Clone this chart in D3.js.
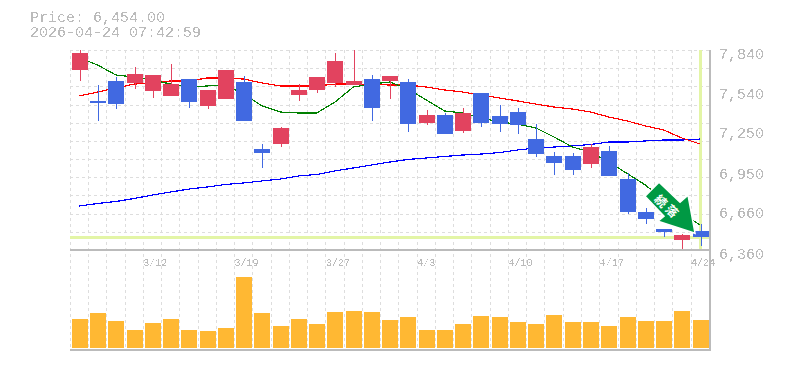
<!DOCTYPE html>
<html>
<head>
<meta charset="utf-8">
<script src="https://cdn.jsdelivr.net/npm/d3@7"></script>
<style>
	html, body {margin:0; padding:0; background:#fff; overflow:hidden;}
	text {font-family:"Liberation Mono", monospace; fill:#bbb;}
	.grid {stroke:#ddd; stroke-width:1; stroke-dasharray:3,3; shape-rendering:crispEdges;}
	.frame {stroke:#bbb; stroke-width:2; shape-rendering:crispEdges;}
	.ma {fill:none; stroke-width:1.2; shape-rendering:crispEdges;}
	.bar {shape-rendering:crispEdges;}
	.crisp {filter:url(#crisp);}
</style>
</head>
<body>
<svg id="chart" width="785" height="370">
	<defs>
		<!-- the original labels have no antialiasing, so threshold the alpha -->
		<filter id="crisp" x="0" y="0" width="100%" height="100%" filterUnits="objectBoundingBox">
			<feComponentTransfer><feFuncA type="discrete" tableValues="0 0 1 1"></feFuncA></feComponentTransfer>
		</filter>
	</defs>
</svg>
<script>
var headerLines = ['Price: 6,454.00', '2026-04-24 07:42:59'];
var lastPrice = 6454;

var dates = ['3/6','3/9','3/10','3/11','3/12','3/13','3/16','3/17','3/18','3/19','3/23','3/24','3/25','3/26','3/27','3/30','3/31','4/1','4/2','4/3','4/6','4/7','4/8','4/9','4/10','4/13','4/14','4/15','4/16','4/17','4/20','4/21','4/22','4/23','4/24'];
var dateLabels = ['3/12','3/19','3/27','4/3','4/10','4/17','4/24'];
var priceTicks = [7840,7540,7250,6950,6660,6360];

var opens = [7692,7463,7611,7598,7539,7500,7625,7426,7480,7603,7107,7144,7507,7544,7596,7581,7625,7611,7603,7300,7359,7241,7522,7352,7381,7181,7056,7056,6996,7093,6885,6641,6515,6434,6500];
var highs = [7840,7581,7640,7714,7655,7736,7625,7544,7692,7648,7144,7270,7588,7640,7818,7840,7655,7648,7625,7396,7374,7411,7522,7433,7411,7292,7085,7078,7144,7130,6930,6671,6515,6478,6552];
var lows = [7611,7315,7406,7554,7487,7500,7413,7406,7480,7317,6969,7122,7463,7522,7566,7581,7315,7477,7233,7285,7218,7226,7270,7233,7218,7048,6915,6915,6967,6908,6626,6552,6456,6353,6390];
var closes = [7818,7448,7442,7662,7655,7588,7457,7544,7692,7317,7078,7263,7544,7640,7759,7611,7411,7648,7292,7359,7218,7374,7300,7292,7285,7070,7004,6952,7122,6908,6641,6589,6493,6471,6454];

var maShort = [7781,7729,7655,7640,7618,7588,7566,7574,7581,7514,7426,7381,7374,7374,7455,7566,7588,7603,7551,7470,7389,7374,7337,7307,7292,7263,7196,7122,7085,7011,6926,6841,6730,6634,6545];
var maMid = [7500,7529,7559,7588,7596,7611,7611,7633,7633,7625,7596,7574,7574,7574,7588,7588,7585,7581,7581,7566,7544,7529,7507,7485,7463,7440,7418,7403,7381,7344,7315,7278,7248,7189,7144];
var maLong = [6686,6704,6719,6741,6767,6789,6811,6826,6845,6856,6871,6885,6908,6919,6945,6967,6989,7011,7030,7041,7052,7063,7070,7081,7100,7115,7122,7130,7141,7159,7159,7167,7174,7174,7181];

var volumes = [29,35,27,18,25,29,18,17,20,71,35,22,29,24,36,37,36,28,31,18,18,24,32,31,26,24,33,26,26,22,31,27,27,37,28];

var params = {};

function defineParams(){
	params.svg = d3.select('#chart');
	params.x = d3.scaleBand().domain(dates).range([70.3, 709.3]);
	params.y = d3.scaleLinear().domain([6360, 7840]).range([250, 50]);
	params.yVol = d3.scaleLinear().domain([0, 100]).range([348, 248]);
	params.barWidth = 16;
	params.up = '#e2435f';
	params.down = '#4169e1';
}

//left edge of the candle/volume bar in slot d
function barLeft(d){
	return Math.round(params.x(d) + 1.5);
}

function addGrid(){
	var x = params.x, y = params.y;
	var g = params.svg.append('g');

	//vertical lines are on the band edges, through both panels
	var edges = dates.map(function(d){return x(d);}).concat([x.range()[1]]);
	g.selectAll('.gridV').data(edges).enter().append('line')
		.attr('class', 'grid gridV')
		.attr('x1', function(d){return Math.floor(d);})
		.attr('x2', function(d){return Math.floor(d);})
		.attr('y1', 50)
		.attr('y2', 350);

	//11 even divisions of the price panel (not the same as the labelled ticks)
	var levels = d3.range(0, 12).map(function(i){return 6360 + i*(7840-6360)/11;});
	g.selectAll('.gridH').data(levels).enter().append('line')
		.attr('class', 'grid gridH')
		.attr('x1', 70)
		.attr('x2', 710)
		.attr('y1', function(d){return Math.round(y(d));})
		.attr('y2', function(d){return Math.round(y(d));});
}

function addMarkers(){
	//current price and current date highlight
	var color = '#e3f5a6';
	var cx = params.x(dates[dates.length-1]) + params.x.bandwidth()/2;
	params.svg.append('line')
		.attr('x1', 70).attr('x2', 710)
		.attr('y1', params.y(lastPrice)).attr('y2', params.y(lastPrice))
		.attr('stroke', color).attr('stroke-width', 3)
		.attr('shape-rendering', 'crispEdges');
	params.svg.append('line')
		.attr('x1', cx).attr('x2', cx)
		.attr('y1', 50).attr('y2', 249)
		.attr('stroke', color).attr('stroke-width', 3)
		.attr('shape-rendering', 'crispEdges');
}

function addLines(){
	var line = d3.line()
		.x(function(d, i){return params.x(dates[i]) + params.x.bandwidth()/2;})
		.y(function(d){return params.y(d);});

	[[maLong, '#0000ff'], [maMid, '#ff0000'], [maShort, '#008000']].forEach(function(m){
		params.svg.append('path')
			.attr('class', 'ma')
			.attr('d', line(m[0]))
			.attr('stroke', m[1]);
	});
}

function addCandles(){
	var y = params.y;
	var g = params.svg.append('g').attr('class', 'candles');
	var c = g.selectAll('g').data(dates).enter().append('g');
	var col = function(d, i){return closes[i] >= opens[i] ? params.up : params.down;};

	//wicks
	c.append('rect')
		.attr('class', 'bar')
		.attr('x', function(d){return barLeft(d) + params.barWidth/2;})
		.attr('width', 1)
		.attr('y', function(d, i){return Math.round(y(highs[i]));})
		.attr('height', function(d, i){return Math.round(y(lows[i])) - Math.round(y(highs[i]));})
		.attr('fill', col);

	//bodies
	c.append('rect')
		.attr('class', 'bar')
		.attr('x', barLeft)
		.attr('width', params.barWidth)
		.attr('y', function(d, i){return Math.round(y(Math.max(opens[i], closes[i])));})
		.attr('height', function(d, i){return Math.max(1, Math.round(y(Math.min(opens[i], closes[i]))) - Math.round(y(Math.max(opens[i], closes[i]))));})
		.attr('fill', col);
}

function addVolumes(){
	params.svg.append('g').selectAll('rect').data(dates).enter().append('rect')
		.attr('class', 'bar')
		.attr('x', barLeft)
		.attr('width', params.barWidth)
		.attr('y', function(d, i){return params.yVol(volumes[i]);})
		.attr('height', function(d, i){return params.yVol(0) - params.yVol(volumes[i]);})
		.attr('fill', '#ffb833');
}

function addFrame(){
	params.svg.append('line').attr('class', 'frame').attr('x1', 70).attr('x2', 711).attr('y1', 250).attr('y2', 250);
	params.svg.append('line').attr('class', 'frame').attr('x1', 70).attr('x2', 711).attr('y1', 350).attr('y2', 350);
	params.svg.append('line').attr('class', 'frame').attr('x1', 710).attr('x2', 710).attr('y1', 50).attr('y2', 351);
}

function addAxes(){
	//price labels on the right
	var yAxis = d3.axisRight(params.y)
		.tickValues(priceTicks)
		.tickFormat(d3.format(','))
		.tickSize(0)
		.tickPadding(0);
	var ay = params.svg.append('g')
		.attr('class', 'crisp')
		.attr('transform', 'translate(719,0)')
		.call(yAxis);
	ay.select('.domain').remove();
	ay.selectAll('text')
		.attr('dy', 8)
		.style('font-size', '15px')
		.style('font-family', '"Liberation Mono", monospace')
		.attr('fill', '#bbb');

	//date labels start at the left edge of their band
	var xAxis = d3.axisBottom(params.x)
		.tickValues(dateLabels)
		.tickSize(0)
		.tickPadding(0);
	var ax = params.svg.append('g')
		.attr('class', 'crisp')
		.attr('transform', 'translate(0,266)')
		.call(xAxis);
	ax.select('.domain').remove();
	ax.selectAll('.tick').attr('transform', function(d){return 'translate(' + params.x(d) + ',0)';});
	ax.selectAll('text')
		.attr('y', 0)
		.attr('dy', 0)
		.attr('text-anchor', 'start')
		.style('font-size', '10px')
		.style('font-family', '"Liberation Mono", monospace')
		.attr('fill', '#bbb');
}

function addHeader(){
	params.svg.append('g').attr('class', 'crisp')
		.selectAll('.header').data(headerLines).enter().append('text')
		.attr('class', 'header')
		.attr('x', 30)
		.attr('y', function(d, i){return 22 + i*15;})
		.style('font-size', '15px')
		.text(function(d){return d;});
}

function addArrow(){
	//big down arrow, tip sits just left of the last candle
	var tipX = params.x(dates[34]) + 4;
	var tipY = params.y(lastPrice) - 4;
	var shape = [[-36,-51],[-50,-37],[-31,-17],[-37,-12],[0,0],[-7,-38],[-15,-31]];
	var g = params.svg.append('g').attr('transform', 'translate(' + tipX + ',' + tipY + ')');
	g.append('path')
		.attr('d', d3.line()(shape) + 'Z')
		.attr('fill', '#009944')
		.attr('stroke', '#fff')
		.attr('stroke-width', 1.5);
	g.selectAll('text').data(['続','落']).enter().append('text')
		.attr('transform', function(d, i){return 'translate(' + (-34.5 + i*11) + ',' + (-32 + i*10) + ') rotate(45)';})
		.attr('text-anchor', 'middle')
		.attr('dy', 4)
		.style('font-family', '"Noto Sans CJK JP"')
		.style('font-weight', 'bold')
		.style('font-size', '12px')
		.style('fill', '#fff')
		.text(function(d){return d;});
}

function init(){
	defineParams();
	addGrid();
	addMarkers();
	addLines();
	addVolumes();
	addCandles();
	addFrame();
	addAxes();
	addHeader();
	addArrow();
}

init();
</script>
</body>
</html>
